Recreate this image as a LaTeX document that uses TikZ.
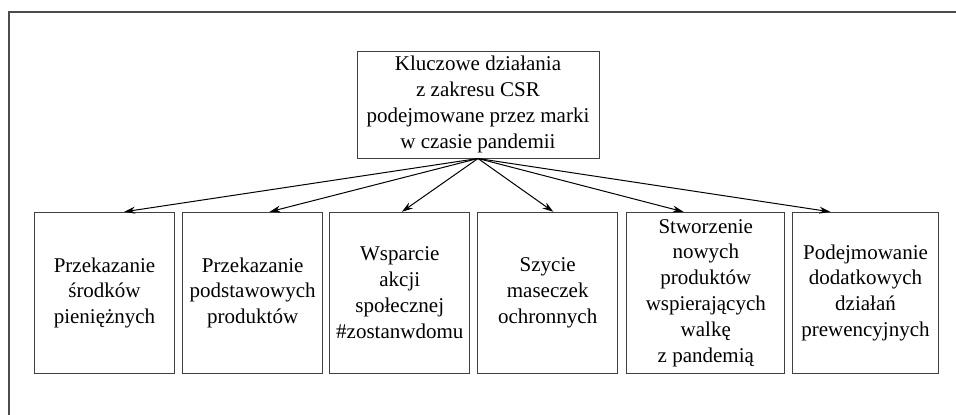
\documentclass[tikz,border=0pt]{standalone}
\usepackage{fontspec}
\setmainfont{Liberation Serif}
\usetikzlibrary{arrows.meta,calc}
\begin{document}
\begin{tikzpicture}[x=1pt,y=-1pt,
 box/.style={draw=black!75, line width=1pt, align=center, inner sep=0pt, minimum height=161,
   font=\fontsize{21}{25.8}\selectfont},
 arr/.style={-{Stealth[length=11pt,width=7pt]}, line width=1pt, black}]
\useasboundingbox (0,0) rectangle (956,415);
\draw[line width=1.2pt, black!70] (9,415) -- (9,12) -- (956,12);
\node[box, minimum width=242, minimum height=107] (top) at (478,104.5)
  {Kluczowe działania\\z zakresu CSR\\podejmowane przez marki\\w czasie pandemii};
\node[box, minimum width=139.6] (b1) at (104.5,292.8) {Przekazanie\\środków\\pieniężnych};
\node[box, minimum width=140] (b2) at (252.7,292.8) {Przekazanie\\podstawowych\\produktów};
\node[box, minimum width=139.7] (b3) at (399.8,292.8) {Wsparcie\\akcji\\społecznej\\\#zostanwdomu};
\node[box, minimum width=140] (b4) at (547.7,292.8) {Szycie\\maseczek\\ochronnych};
\node[box, minimum width=158.3] (b5) at (705.8,292.8) {Stworzenie\\nowych\\produktów\\wspierających\\walkę\\z pandemią};
\node[box, minimum width=145.6] (b6) at (865.5,292.8) {Podejmowanie\\dodatkowych\\działań\\prewencyjnych};
\draw[arr] (top.south) -- ($(b1.north west)!0.64!(b1.north east)$);
\draw[arr] (top.south) -- ($(b2.north west)!0.62!(b2.north east)$);
\draw[arr] (top.south) -- ($(b3.north west)!0.515!(b3.north east)$);
\draw[arr] (top.south) -- ($(b4.north west)!0.54!(b4.north east)$);
\draw[arr] (top.south) -- ($(b5.north west)!0.36!(b5.north east)$);
\draw[arr] (top.south) -- ($(b6.north west)!0.26!(b6.north east)$);
\end{tikzpicture}
\end{document}
